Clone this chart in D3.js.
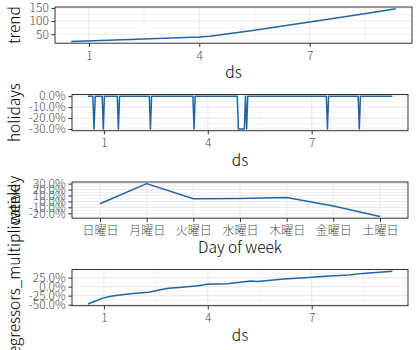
<!DOCTYPE html>
<html>
<head>
<meta charset="utf-8">
<script src="https://cdn.jsdelivr.net/npm/d3@7"></script>
<style>
  body { margin: 0; background: #fff; }
  svg { display: block; font-family: "Noto Sans CJK JP", "Noto Sans", sans-serif; font-weight: 300; }
</style>
</head>
<body>
<svg id="canvas" width="420" height="350"></svg>
<script>
(function () {

    // Data.
    const trendDs = [0.52, 2.11, 4.0, 4.29, 4.69, 5.45, 7.0, 8.49, 9.34];
    const trendValues = [21.9, 30, 39.6, 42, 50, 64.2, 96.2, 128, 147.3];

    const holidayDs = [0.54, 0.68, 0.715, 0.75, 0.95, 0.983, 1.016, 1.386, 1.419, 1.452,
        2.311, 2.344, 2.377, 3.57, 3.603, 3.636, 4.851, 4.884, 5.055, 5.088, 5.121, 5.154,
        7.422, 7.455, 7.488, 8.342, 8.375, 8.408, 9.33];
    const holidayValues = [0, 0, -0.3, 0, 0, -0.3, 0, 0, -0.3, 0,
        0, -0.3, 0, 0, -0.3, 0, 0, -0.3, -0.3, 0, -0.3, 0,
        0, -0.3, 0, 0, -0.3, 0, 0];

    const weekDays = ["日曜日", "月曜日", "火曜日", "水曜日", "木曜日", "金曜日", "土曜日"];
    const weeklyValues = [-0.038, 0.30, 0.045, 0.05, 0.067, -0.078, -0.255];

    const regDs = [0.54, 0.64, 0.78, 0.97, 1.16, 1.35, 1.64, 1.92, 2.30, 2.59, 2.87, 3.25,
        3.63, 3.87, 3.96, 4.58, 5.23, 5.43, 6.19, 6.57, 7.0, 7.51, 8.09, 8.47, 9.33];
    const regValues = [-0.483, -0.44, -0.393, -0.319, -0.275, -0.247, -0.209, -0.181, -0.154,
        -0.091, -0.044, -0.016, 0.019, 0.047, 0.066, 0.082, 0.157, 0.143, 0.212, 0.231,
        0.258, 0.294, 0.321, 0.368, 0.43];

    const dsTicks = [1, 4, 7];
    const trendTicks = [50, 100, 150];
    const holidayTicks = [0, -0.1, -0.2, -0.3];
    const weeklyTicks = [0.3, 0.2, 0.1, 0, -0.1, -0.2];
    const regTicks = [0.25, 0, -0.25, -0.5];

    // Layout.
    const ROW_H = 87.5;
    const PANEL_TOP = 7;
    const PANEL_BOTTOM = 43.2;
    const LINE_COLOR = "#1f66a6";
    const TICK = 3.7;
    const TITLE_SIZE = 15.5;

    const locale = d3.formatLocale({ decimal: ".", thousands: ",", grouping: [3], currency: ["$", ""], minus: "-" });
    const pct = locale.format(".1%");

    let svg = d3.select("#canvas");

    function padded(ext) {
        let d = (ext[1] - ext[0]) * 0.05;
        return [ext[0] - d, ext[1] + d];
    }

    let xDomain = padded(d3.extent(trendDs.concat(holidayDs, regDs)));

    // Minor breaks sit halfway between the major ones, as in ggplot.
    function minorBetween(scale, majors) {
        let s = majors.slice().sort((a, b) => a - b);
        let step = s[1] - s[0];
        let ext = [s[0] - step].concat(s, [s[s.length - 1] + step]);
        let dom = scale.domain();
        let out = [];
        for (let i = 0; i < ext.length - 1; i++) {
            let m = (ext[i] + ext[i + 1]) / 2;
            if (m >= Math.min(dom[0], dom[1]) && m <= Math.max(dom[0], dom[1])) out.push(m);
        }
        return out;
    }

    /**
     * Draw one panel with its own axes.
     */
    function drawPanel(opt) {
        let top = opt.row * ROW_H + PANEL_TOP;
        let bottom = opt.row * ROW_H + PANEL_BOTTOM;
        let x = opt.x.range([opt.left, opt.right]);
        let y = d3.scaleLinear().domain(padded(d3.extent(opt.values))).range([bottom, top]);
        let g = svg.append("g");

        // Grid.
        let grid = g.append("g").attr("fill", "none");
        minorBetween(y, opt.yTicks).forEach(v => {
            grid.append("line").attr("x1", opt.left).attr("x2", opt.right)
                .attr("y1", y(v)).attr("y2", y(v))
                .attr("stroke", "#ebebeb").attr("stroke-width", 0.6);
        });
        if (opt.xTicks) {
            minorBetween(x, opt.xTicks).forEach(v => {
                grid.append("line").attr("y1", top).attr("y2", bottom)
                    .attr("x1", x(v)).attr("x2", x(v))
                    .attr("stroke", "#ebebeb").attr("stroke-width", 0.6);
            });
        }
        opt.yTicks.forEach(v => {
            grid.append("line").attr("x1", opt.left).attr("x2", opt.right)
                .attr("y1", y(v)).attr("y2", y(v))
                .attr("stroke", "#ebebeb").attr("stroke-width", 1.1);
        });
        (opt.xTicks || x.domain()).forEach(v => {
            grid.append("line").attr("y1", top).attr("y2", bottom)
                .attr("x1", x(v)).attr("x2", x(v))
                .attr("stroke", "#ebebeb").attr("stroke-width", 1.1);
        });

        // Line.
        let line = d3.line().x(d => x(d[0])).y(d => y(d[1]));
        g.append("path")
            .datum(opt.keys.map((k, i) => [k, opt.values[i]]))
            .attr("fill", "none")
            .attr("stroke", LINE_COLOR)
            .attr("stroke-width", 1.5)
            .attr("stroke-linejoin", "round")
            .attr("d", line);

        // Border.
        g.append("rect")
            .attr("x", opt.left).attr("y", top)
            .attr("width", opt.right - opt.left).attr("height", bottom - top)
            .attr("fill", "none").attr("stroke", "#333333").attr("stroke-width", 1);

        // Axes.
        let xAxis = d3.axisBottom(x).tickSizeOuter(0).tickSize(TICK).tickPadding(4.5);
        if (opt.xTicks) xAxis.tickValues(opt.xTicks).tickFormat(d3.format("d"));
        let yAxis = d3.axisLeft(y).tickValues(opt.yTicks).tickFormat(opt.yFormat)
            .tickSizeOuter(0).tickSize(TICK).tickPadding(2.5);

        [g.append("g").attr("transform", "translate(0," + bottom + ")").call(xAxis),
         g.append("g").attr("transform", "translate(" + opt.left + ",0)").call(yAxis)]
            .forEach(a => {
                a.attr("font-family", null).attr("font-size", 12);
                a.select(".domain").remove();
                a.selectAll(".tick line").attr("stroke", "#333333");
                a.selectAll(".tick text").attr("fill", "#4d4d4d");
            });

        // Titles.
        svg.append("text")
            .attr("x", (opt.left + opt.right) / 2)
            .attr("y", opt.row * ROW_H + 78)
            .attr("text-anchor", "middle")
            .attr("font-size", TITLE_SIZE)
            .text(opt.xTitle);
        svg.append("text")
            .attr("transform", "translate(20," + (opt.yTitleY || (top + bottom) / 2) + ") rotate(-90)")
            .attr("text-anchor", "middle")
            .attr("font-size", TITLE_SIZE)
            .text(opt.yTitle);
    }

    drawPanel({
        row: 0, left: 55, right: 412,
        x: d3.scaleLinear().domain(xDomain), xTicks: dsTicks,
        keys: trendDs, values: trendValues,
        yTicks: trendTicks, yFormat: d3.format("d"),
        xTitle: "ds", yTitle: "trend"
    });
    drawPanel({
        row: 1, left: 72, right: 408,
        x: d3.scaleLinear().domain(xDomain), xTicks: dsTicks,
        keys: holidayDs, values: holidayValues,
        yTicks: holidayTicks, yFormat: pct,
        xTitle: "ds", yTitle: "holidays"
    });
    drawPanel({
        row: 2, left: 72, right: 408,
        x: d3.scalePoint().domain(weekDays).padding(0.6), xTicks: null,
        keys: weekDays, values: weeklyValues,
        yTicks: weeklyTicks, yFormat: pct,
        xTitle: "Day of week", yTitle: "weekly"
    });
    drawPanel({
        row: 3, left: 72, right: 408,
        x: d3.scaleLinear().domain(xDomain), xTicks: dsTicks,
        keys: regDs, values: regValues,
        yTicks: regTicks, yFormat: pct,
        xTitle: "ds", yTitle: "regressors_multiplicative", yTitleY: 272
    });

})();
</script>
</body>
</html>
